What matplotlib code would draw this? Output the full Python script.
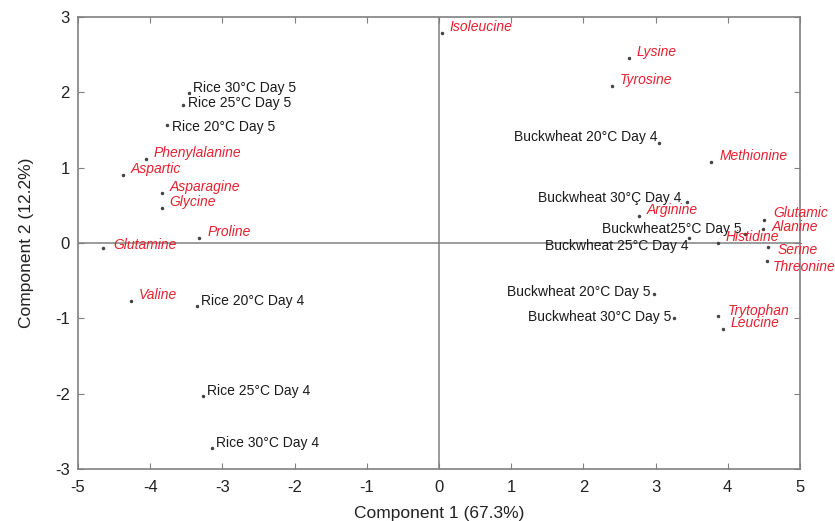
import matplotlib.pyplot as plt

plt.rcParams['font.family'] = ['Liberation Sans', 'DejaVu Sans']
plt.rcParams['axes.unicode_minus'] = False

# samples (black labels)
samples = ["Rice 30°C Day 5", "Rice 25°C Day 5", "Rice 20°C Day 5",
           "Rice 20°C Day 4", "Rice 25°C Day 4", "Rice 30°C Day 4",
           "Buckwheat 20°C Day 4", "Buckwheat 30°Ç Day 4", "Buckwheat25°C Day 5",
           "Buckwheat 25°C Day 4", "Buckwheat 20°C Day 5", "Buckwheat 30°C Day 5"]
sample_x = [-3.46, -3.55, -3.77, -3.35, -3.27, -3.14, 3.05, 3.43, 4.24, 3.46, 2.98, 3.25]
sample_y = [1.99, 1.83, 1.57, -0.84, -2.03, -2.72, 1.33, 0.54, 0.12, 0.07, -0.68, -1.00]

# amino acids (red labels)
aminos = ["Phenylalanine", "Aspartic", "Asparagine", "Glycine", "Proline", "Glutamine",
          "Valine", "Isoleucine", "Lysine", "Tyrosine", "Methionine", "Arginine",
          "Glutamic", "Alanine", "Histidine", "Serine", "Threonine", "Trytophan", "Leucine"]
amino_x = [-4.06, -4.38, -3.84, -3.84, -3.32, -4.65, -4.27, 0.04, 2.63, 2.40, 3.77, 2.77,
           4.50, 4.49, 3.86, 4.56, 4.54, 3.86, 3.93]
amino_y = [1.12, 0.90, 0.66, 0.47, 0.07, -0.07, -0.77, 2.79, 2.46, 2.09, 1.08, 0.36,
           0.31, 0.19, 0.00, -0.05, -0.24, -0.97, -1.14]

red = '#e5202e'
fig = plt.figure(figsize=(8.35, 5.21), dpi=100)
ax = fig.add_axes([0.0934, 0.0998, 0.8646, 0.8676])

ax.axhline(0, color='#808080', lw=1.1, zorder=1)
ax.axvline(0, color='#808080', lw=1.1, zorder=1)

ax.plot(sample_x, sample_y, 'o', ms=1.5, color='#444444', ls='none', zorder=3)
ax.plot(amino_x, amino_y, 'o', ms=1.5, color='#444444', ls='none', zorder=3)

# label offsets in pixels
sample_off = {"Rice 25°C Day 5": (5, 2), "Rice 20°C Day 5": (5, -2),
              "Buckwheat 20°C Day 4": (-2, 6), "Buckwheat 30°Ç Day 4": (-5, 4),
              "Buckwheat25°C Day 5": (-3, 5), "Buckwheat 25°C Day 4": (0, -8),
              "Buckwheat 20°C Day 5": (-4, 2), "Buckwheat 30°C Day 5": (-2, 1)}
for name, x, y in zip(samples, sample_x, sample_y):
    left = name.startswith("Buck")
    off = sample_off.get(name, (4, 5))
    ax.annotate(name, (x, y), xytext=off, textcoords='offset pixels',
                ha='right' if left else 'left', va='center', fontsize=10, color='#1a1a1a')

amino_off = {"Serine": (9, -3), "Threonine": (6, -6), "Alanine": (9, 2),
             "Glutamine": (10, 3), "Glutamic": (9, 7), "Trytophan": (10, 5)}
for name, x, y in zip(aminos, amino_x, amino_y):
    off = amino_off.get(name, (8, 6))
    ax.annotate(name, (x, y), xytext=off, textcoords='offset pixels',
                ha='left', va='center', fontsize=10, color=red, style='italic')

ax.set_xlim(-5, 5)
ax.set_ylim(-3, 3)
ax.set_xticks(range(-5, 6))
ax.set_yticks(range(-3, 4))
ax.tick_params(direction='in', top=True, right=True, length=4, color='#808080',
               labelsize=12, labelcolor='#222222')
ax.tick_params(axis='x', pad=8)
ax.tick_params(axis='y', pad=6)
for s in ax.spines.values():
    s.set_color('#808080')
    s.set_linewidth(1.2)

ax.set_xlabel("Component 1 (67.3%)", fontsize=12.5, color='#222222', labelpad=8)
ax.set_ylabel("Component 2 (12.2%)", fontsize=12.5, color='#222222', labelpad=15)

fig.savefig("out.png", dpi=100)
